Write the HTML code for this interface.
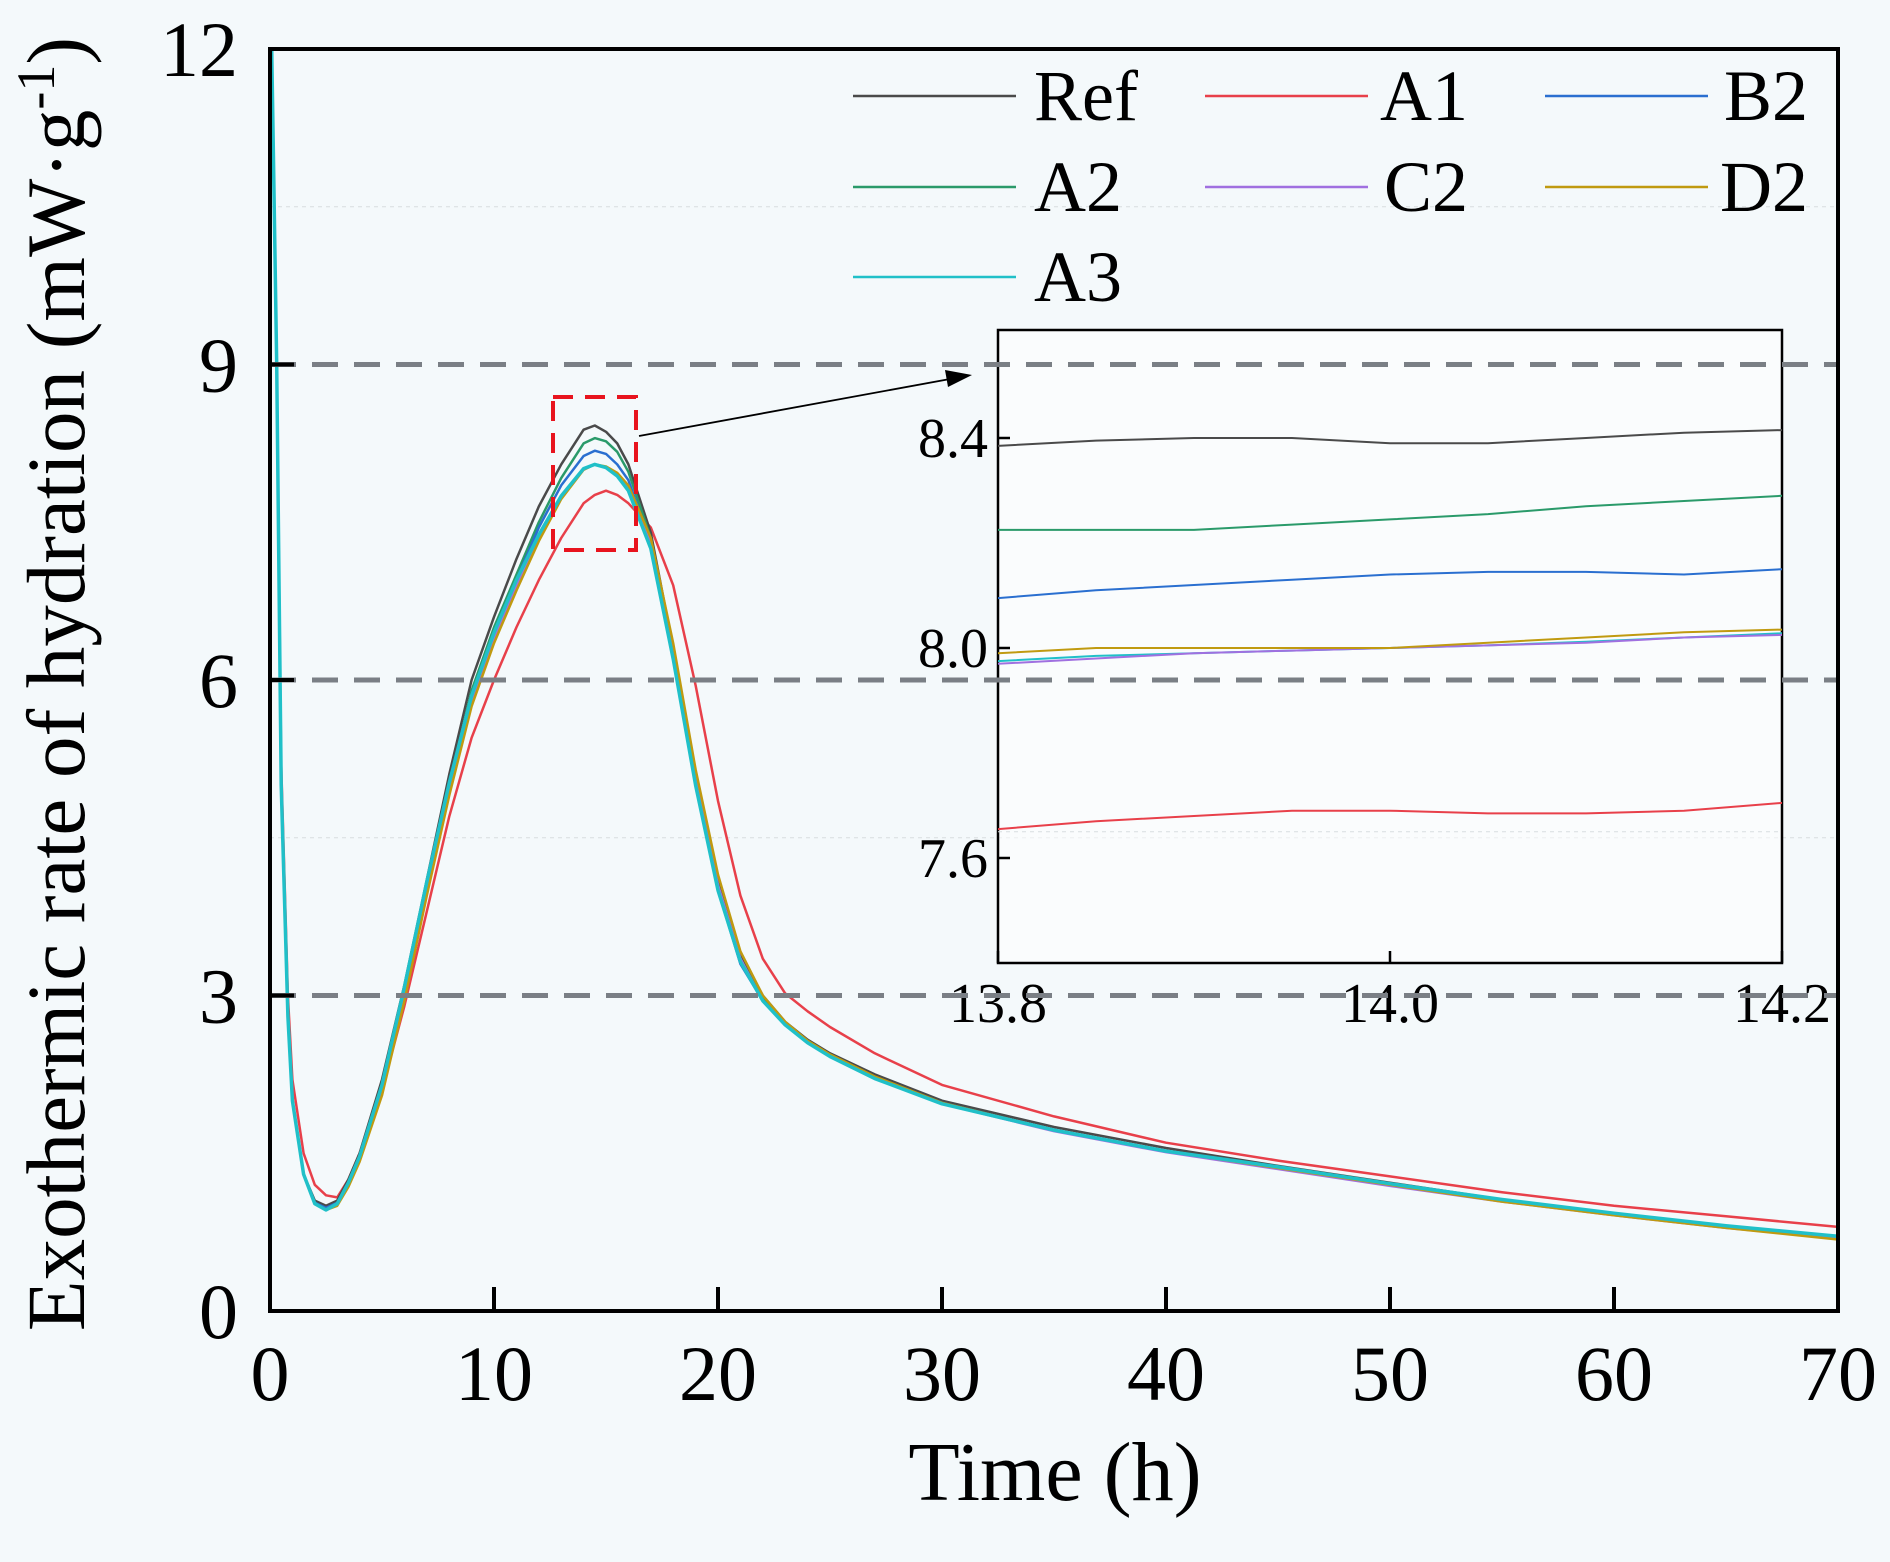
<!DOCTYPE html>
<html><head><meta charset="utf-8"><style>
html,body{margin:0;padding:0;background:#f4f9fb;}
svg{display:block;font-family:"Liberation Serif",serif;}
</style></head><body>
<svg id="chart" width="1890" height="1562" viewBox="0 0 1890 1562">
<rect x="0" y="0" width="1890" height="1562" fill="#f4f9fb"/>
<g id="main"></g>
</svg>
<script>
const times=[0,0.15,0.3,0.5,0.8,1,1.5,2,2.5,3,3.5,4,5,6,7,8,9,10,11,12,13,14,14.5,15,15.5,16,17,18,19,20,21,22,23,24,25,27,30,35,40,45,50,55,60,65,70];
const seriesNames=["Ref","A1","B2","A2","C2","D2","A3"];
const seriesColors=["#4a4a4a","#e8404a","#2a6fd0","#2a9a6a","#a070e0","#c09a10","#20c0c8"];
const refVals=[13,11,9,5,2.8,2,1.3,1.05,1.0,1.05,1.25,1.5,2.2,3.1,4.1,5.1,6.0,6.6,7.15,7.65,8.05,8.38,8.42,8.36,8.25,8.05,7.4,6.3,5.1,4.1,3.4,3.0,2.75,2.58,2.45,2.25,2.0,1.75,1.55,1.38,1.22,1.06,0.93,0.81,0.7];
const a1Vals=[13,11,9,5.2,3.0,2.2,1.5,1.2,1.1,1.08,1.25,1.5,2.1,2.9,3.8,4.7,5.45,6.0,6.5,6.95,7.35,7.68,7.76,7.8,7.76,7.68,7.45,6.9,5.95,4.85,3.95,3.35,3.02,2.85,2.7,2.45,2.15,1.85,1.6,1.43,1.28,1.13,1.0,0.9,0.8];
const b2Vals=[13,11,9,5,2.8,2,1.3,1.03,0.98,1.03,1.22,1.45,2.15,3.05,4.05,5.0,5.85,6.45,6.95,7.45,7.85,8.13,8.18,8.15,8.05,7.9,7.3,6.2,5.0,4.0,3.3,2.95,2.72,2.55,2.42,2.22,1.98,1.72,1.52,1.36,1.2,1.05,0.92,0.8,0.7];
const a2Vals=[13,11,9,5,2.8,2,1.3,1.03,0.97,1.02,1.2,1.45,2.15,3.05,4.05,5.0,5.9,6.5,7.0,7.5,7.92,8.25,8.3,8.27,8.17,7.98,7.35,6.25,5.05,4.05,3.35,2.97,2.73,2.56,2.43,2.22,1.98,1.72,1.52,1.36,1.2,1.05,0.92,0.8,0.7];
const c2Vals=[13,11,9,5,2.8,2,1.3,1.02,0.96,1.02,1.2,1.45,2.1,3.0,4.0,4.95,5.8,6.4,6.9,7.35,7.75,8.0,8.05,8.02,7.95,7.82,7.3,6.25,5.05,4.05,3.35,2.95,2.72,2.55,2.42,2.21,1.97,1.71,1.51,1.35,1.19,1.04,0.91,0.79,0.69];
const d2Vals=[13,11,9,5,2.8,2,1.3,1.02,0.96,1.0,1.18,1.42,2.05,2.95,3.95,4.9,5.75,6.35,6.85,7.32,7.72,8.0,8.05,8.03,7.97,7.85,7.35,6.35,5.15,4.15,3.42,3.0,2.75,2.57,2.44,2.23,1.98,1.72,1.52,1.36,1.2,1.04,0.91,0.79,0.68];
const a3Vals=[13,11,9,5,2.8,2,1.3,1.02,0.96,1.02,1.22,1.47,2.15,3.08,4.08,5.02,5.85,6.45,6.95,7.38,7.75,8.01,8.05,8.02,7.94,7.8,7.25,6.2,5.0,4.0,3.32,2.95,2.72,2.55,2.42,2.21,1.97,1.72,1.52,1.37,1.21,1.06,0.93,0.81,0.71];
const seriesVals=[refVals,a1Vals,b2Vals,a2Vals,c2Vals,d2Vals,a3Vals];
const insetTimes=[13.8,13.85,13.9,13.95,14.0,14.05,14.1,14.15,14.2];
const insetRef=[8.385,8.395,8.4,8.4,8.39,8.39,8.4,8.41,8.415];
const insetA1=[7.655,7.67,7.68,7.69,7.69,7.685,7.685,7.69,7.705];
const insetB2=[8.095,8.11,8.12,8.13,8.14,8.145,8.145,8.14,8.15];
const insetA2=[8.225,8.225,8.225,8.235,8.245,8.255,8.27,8.28,8.29];
const insetC2=[7.97,7.98,7.99,7.995,8.0,8.005,8.01,8.02,8.025];
const insetD2=[7.99,8.0,8.0,8.0,8.0,8.01,8.02,8.03,8.035];
const insetA3=[7.975,7.985,7.99,7.995,8.0,8.005,8.012,8.02,8.028];
const insetVals=[insetRef,insetA1,insetB2,insetA2,insetC2,insetD2,insetA3];
const xTicks=[0,10,20,30,40,50,60,70];
const yTicks=[0,3,6,9,12];
const insetXTicks=["13.8","14.0","14.2"];
const insetYTicks=["7.6","8.0","8.4"];

const NS="http://www.w3.org/2000/svg";
const g=document.getElementById('main');
function mk(tag,attrs,parent){const e=document.createElementNS(NS,tag);for(const k in attrs)e.setAttribute(k,attrs[k]);(parent||g).appendChild(e);return e;}
const L=270,R=1838,T=49,B=1311;
const xs=t=>L+(t-0)/70*(R-L);
const ys=v=>B-v/12*(B-T);
const IL=998,IR=1782,IT=330,IB=963;
const ixs=t=>IL+(t-13.8)/0.4*(IR-IL);
const iys=v=>858-(v-7.6)/0.4*420*0.5;

const defs=mk('defs',{});
const cp=mk('clipPath',{id:'pc'},defs);mk('rect',{x:L,y:T,width:R-L,height:B-T},cp);
const cp2=mk('clipPath',{id:'ic'},defs);mk('rect',{x:IL,y:IT,width:IR-IL,height:IB-IT},cp2);

[4.5,10.5].forEach(v=>{const e=mk('line',{x1:L,x2:R,y1:ys(v),y2:ys(v),stroke:'#d8dde0','stroke-width':1,'stroke-dasharray':'4 4'});

});

const sg=mk('g',{'clip-path':'url(#pc)'});


[1,0,3,2,4,5,6].forEach(i=>{
 const d=times.map((t,j)=>(j?'L':'M')+xs(t).toFixed(1)+','+ys(seriesVals[i][j]).toFixed(1)).join(' ');
 const p=mk('path',{d:d,fill:'none',stroke:seriesColors[i],'stroke-width':i==6?3.5:2.5,'stroke-linejoin':'round'},sg);
 
 
});

const ib=mk('rect',{x:IL,y:IT,width:IR-IL,height:IB-IT,fill:'#ffffff','fill-opacity':0.5,stroke:'#000','stroke-width':2.5});


const ig=mk('g',{'clip-path':'url(#ic)'});


mk('line',{x1:IL,x2:IR,y1:iys(7.65),y2:iys(7.65),stroke:'#d8dde0','stroke-width':1,'stroke-dasharray':'4 4'},ig);
[6,4,5,2,3,1,0].forEach(i=>{
 const d=insetTimes.map((t,j)=>(j?'L':'M')+ixs(t).toFixed(1)+','+iys(insetVals[i][j]).toFixed(1)).join(' ');
 const p=mk('path',{d:d,fill:'none',stroke:seriesColors[i],'stroke-width':2},ig);
 
 
});
insetYTicks.forEach(s=>{const v=parseFloat(s);
 mk('line',{x1:IL,x2:IL+12,y1:iys(v),y2:iys(v),stroke:'#000','stroke-width':2.5});
 const t=mk('text',{x:IL-10,y:iys(v)+19,'text-anchor':'end','font-size':56});t.textContent=s;
 
 
});
insetXTicks.forEach(s=>{const v=parseFloat(s);
 mk('line',{x1:ixs(v),x2:ixs(v),y1:IB,y2:IB-12,stroke:'#000','stroke-width':2.5});
 const t=mk('text',{x:ixs(v),y:1022,'text-anchor':'middle','font-size':56});t.textContent=s;
 
 
});

[3,6,9].forEach(v=>{const e=mk('line',{x1:L,x2:R,y1:ys(v),y2:ys(v),stroke:'#7a7f85','stroke-width':5,'stroke-dasharray':'26 16'});

});

const zb=mk('rect',{x:553,y:397,width:83,height:153,fill:'none',stroke:'#e8141e','stroke-width':4,'stroke-dasharray':'20 12'});


const ar=mk('line',{x1:639,y1:436,x2:950,y2:379,stroke:'#000','stroke-width':1.8});


mk('polygon',{points:'972,375 945,370 948,387',fill:'#000'});

const fr=mk('rect',{x:L,y:T,width:R-L,height:B-T,fill:'none',stroke:'#000','stroke-width':4});


xTicks.forEach(v=>{
 mk('line',{x1:xs(v),x2:xs(v),y1:B,y2:B-24,stroke:'#000','stroke-width':4});
 const t=mk('text',{x:xs(v),y:1400,'text-anchor':'middle','font-size':78});t.textContent=v;
 
 
});
yTicks.forEach(v=>{
 mk('line',{x1:L,x2:L+24,y1:ys(v),y2:ys(v),stroke:'#000','stroke-width':4});
 const t=mk('text',{x:238,y:ys(v)+27,'text-anchor':'end','font-size':78});t.textContent=v;
 
 
});

const xt=mk('text',{x:1055,y:1500,'text-anchor':'middle','font-size':84});xt.textContent='Time (h)';


const yt=mk('text',{x:0,y:0,'text-anchor':'middle','font-size':83,transform:'translate(84,684) rotate(-90)'});
yt.innerHTML='Exothermic rate of hydration (mW·g<tspan dy="-30" font-size="54">-1</tspan><tspan dy="30">)</tspan>';



const legPos=[[0,0],[1,0],[2,0],[0,1],[1,1],[2,1],[0,2]];
const legOrder=[0,1,2,3,4,5,6];
const colLine=[853,1205,1545],colText=[[1034,'start'],[1468,'end'],[1808,'end']],rowY=[96,187,277];
legOrder.forEach((i,k)=>{const [c,r]=legPos[k];
 const lg=mk('g',{});
 
 
 mk('line',{x1:colLine[c],x2:colLine[c]+163,y1:rowY[r],y2:rowY[r],stroke:seriesColors[i],'stroke-width':2.5},lg);
 const t=mk('text',{x:colText[c][0],y:rowY[r]+24,'text-anchor':colText[c][1],'font-size':72},lg);t.textContent=seriesNames[i];
});
</script>
</body></html>
